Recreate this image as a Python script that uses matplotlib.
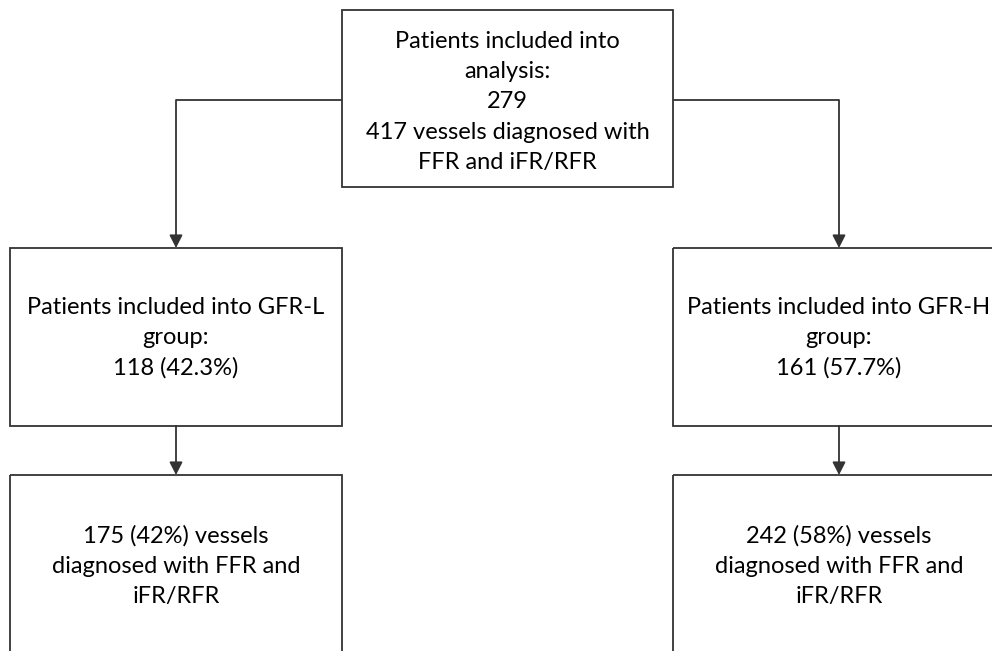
import matplotlib.pyplot as plt
from matplotlib.patches import Rectangle, FancyArrowPatch

# ============ Data ============
patients_total = 279
vessels_total = 417
group_names = ["GFR-L", "GFR-H"]
group_patients = [118, 161]
group_patient_pct = [42.3, 57.7]
group_vessels = [175, 242]
group_vessel_pct = [42, 58]

# ============ Layout (pixels, y down) ============
W, H = 992, 651
FONT = "Lato"
FS = 17
LS = 1.53
EDGE = "#333333"

top_box = (342, 10, 331, 177)
mid_boxes = [(10, 248, 332, 178), (673, 248, 332, 178)]
bot_boxes = [(10, 475, 332, 200), (673, 475, 332, 200)]
branch_y = 100

fig = plt.figure(figsize=(W / 100, H / 100), dpi=100)
ax = fig.add_axes([0, 0, 1, 1])
ax.set_xlim(0, W)
ax.set_ylim(H, 0)
ax.axis("off")


def box(b, text, yc=None):
    x, y, w, h = b
    ax.add_patch(Rectangle((x, y), w, h, fill=False, edgecolor=EDGE, lw=1.3))
    if yc is None:
        yc = y + h / 2
    ax.text(x + w / 2, yc, text, ha="center", va="center", fontsize=FS,
            family=FONT, color="#000000", linespacing=LS)


def arrow(p0, p1):
    ax.add_patch(FancyArrowPatch(p0, p1, arrowstyle="-|>,head_length=0.55,head_width=0.28",
                                 mutation_scale=14, color=EDGE, lw=1.3,
                                 shrinkA=0, shrinkB=0))


box(top_box, f"Patients included into\nanalysis:\n{patients_total}\n"
             f"{vessels_total} vessels diagnosed with\nFFR and iFR/RFR", yc=top_box[1] + 92)

for i, name in enumerate(group_names):
    mb = mid_boxes[i]
    bb = bot_boxes[i]
    cx = mb[0] + mb[2] / 2
    box(mb, f"Patients included into {name}\ngroup:\n{group_patients[i]} ({group_patient_pct[i]:.1f}%)",
        yc=mb[1] + 90)
    box(bb, f"{group_vessels[i]} ({group_vessel_pct[i]}%) vessels\ndiagnosed with FFR and\niFR/RFR",
        yc=bb[1] + 91)
    # branch from top box
    sx = top_box[0] if i == 0 else top_box[0] + top_box[2]
    ax.plot([sx, cx], [branch_y, branch_y], color=EDGE, lw=1.3, solid_capstyle="butt")
    arrow((cx, branch_y), (cx, mb[1]))
    arrow((cx, mb[1] + mb[3]), (cx, bb[1]))

fig.savefig("out.png", dpi=100)
